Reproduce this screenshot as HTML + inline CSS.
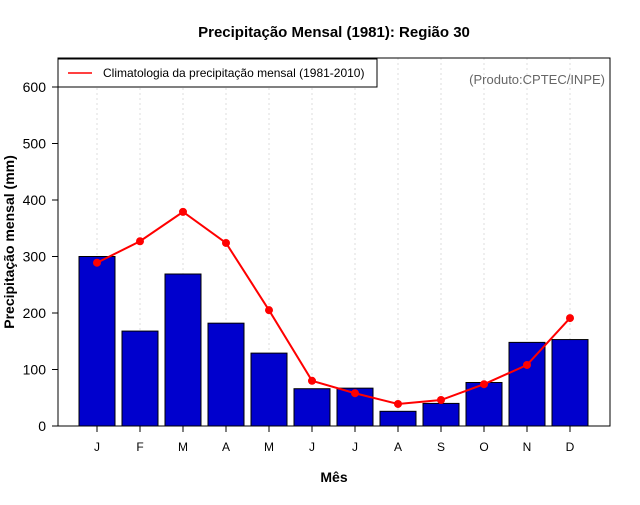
<!DOCTYPE html>
<html><head><meta charset="utf-8"><style>
body{margin:0;background:#fff;font-family:"Liberation Sans",sans-serif}
svg text{font-family:"Liberation Sans",sans-serif}
</style></head><body>
<svg id="chart" width="640" height="500" xmlns="http://www.w3.org/2000/svg">
<rect width="640" height="500" fill="#fff"/>
<text x="334" y="37" text-anchor="middle" font-size="15" font-weight="bold">Precipitação Mensal (1981): Região 30</text>
<text x="334" y="482" text-anchor="middle" font-size="14" font-weight="bold">Mês</text>
<text transform="translate(14,242) rotate(-90)" text-anchor="middle" font-size="14" font-weight="bold">Precipitação mensal (mm)</text>
<g id="grid"></g><g id="bars"></g><g id="line"></g><g id="axes"></g>
<rect x="58" y="58" width="552" height="368" fill="none" stroke="#000"/>
<g>
<rect x="58" y="59" width="319" height="28" fill="#fff" stroke="#000"/>
<line x1="68" y1="73" x2="92" y2="73" stroke="red" stroke-width="1.5"/>
<text x="103" y="77" font-size="12">Climatologia da precipitação mensal (1981-2010)</text>
</g>
<text x="605" y="84" text-anchor="end" font-size="13" fill="#666">(Produto:CPTEC/INPE)</text>
</svg>
<script>
const months=["J","F","M","A","M","J","J","A","S","O","N","D"];
const precip=[300,168,269,182,129,66,67,26,40,77,148,153];
const clim=[289,327,379,324,205,80,58,39,46,74,108,191];
const yTicks=[0,100,200,300,400,500,600];
const NS="http://www.w3.org/2000/svg";
const xs=i=>97+i*43;
const ys=v=>426-v*0.565;
function mk(t,a,p){const e=document.createElementNS(NS,t);for(const k in a)e.setAttribute(k,a[k]);p.appendChild(e);return e;}
const g=document.getElementById('grid'),b=document.getElementById('bars'),l=document.getElementById('line'),ax=document.getElementById('axes');
months.forEach((m,i)=>{
 const gl=mk('line',{x1:xs(i),x2:xs(i),y1:58,y2:426,stroke:'#ddd','stroke-dasharray':'2,3'},g);
 
 
 const r=mk('rect',{x:xs(i)-18,y:ys(precip[i]),width:36,height:426-ys(precip[i]),fill:'#0000cd',stroke:'#000'},b);
 
 
 const tk=mk('line',{x1:xs(i),x2:xs(i),y1:426,y2:432,stroke:'#000'},ax);
 
 
 const tx=mk('text',{x:xs(i),y:451,'text-anchor':'middle','font-size':12},ax);tx.textContent=m;
 
 
});
const pl=mk('polyline',{points:clim.map((v,i)=>xs(i)+','+ys(v)).join(' '),fill:'none',stroke:'red','stroke-width':2},l);


clim.forEach((v,i)=>{const c=mk('circle',{cx:xs(i),cy:ys(v),r:4,fill:'red'},l);
 
 });
yTicks.forEach(v=>{
 const tk=mk('line',{x1:52,x2:58,y1:ys(v),y2:ys(v),stroke:'#000'},ax);
 
 
 const tx=mk('text',{x:46,y:ys(v)+5,'text-anchor':'end','font-size':14},ax);tx.textContent=v;
 
 
});
</script>
</body></html>
